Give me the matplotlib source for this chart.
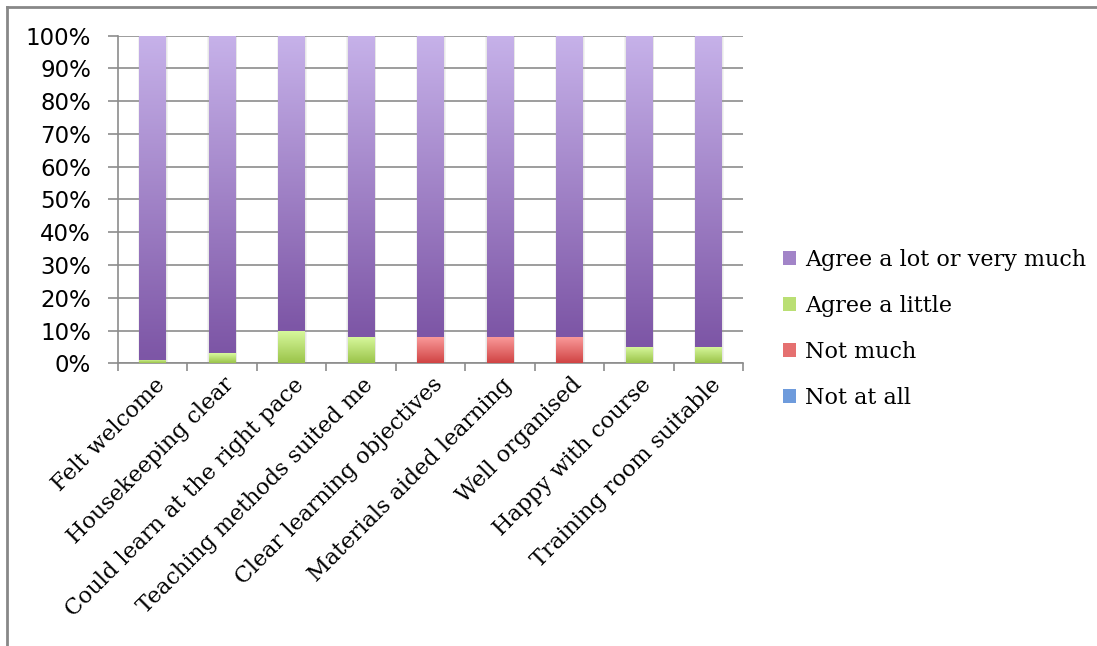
import numpy as np
import matplotlib.pyplot as plt
import matplotlib.transforms as mtransforms
from matplotlib.colors import LinearSegmentedColormap, to_rgb
from matplotlib.patches import Rectangle
from matplotlib.lines import Line2D

# ====================== DATA ======================
categories = ['Felt welcome', 'Housekeeping clear', 'Could learn at the right pace',
              'Teaching methods suited me', 'Clear learning objectives',
              'Materials aided learning', 'Well organised', 'Happy with course',
              'Training room suitable']
not_at_all = [0, 0, 0, 0, 0, 0, 0, 0, 0]
not_much = [0, 0, 0, 0, 8, 8, 8, 0, 0]
agree_little = [1, 3, 10, 8, 0, 0, 0, 5, 5]
agree_lot = [99, 97, 90, 92, 92, 92, 92, 95, 95]

series = [('Not at all', not_at_all, ('#3f74c6', '#9cc2f2')),
          ('Not much', not_much, ('#d04444', '#fb9c9c')),
          ('Agree a little', agree_little, ('#9bc44a', '#d8f99e')),
          ('Agree a lot or very much', agree_lot, ('#7d56a6', '#c6b1e9'))]

serif = 'DejaVu Serif'
grid_col = '#8c8c8c'

fig = plt.figure(figsize=(10.97, 6.46), dpi=100)
ax = fig.add_axes([117.5 / 1097, 1 - 363.3 / 646, (743 - 117.5) / 1097, (363.3 - 35.7) / 646])

x = np.arange(len(categories))
width = 0.375
grad = np.linspace(0, 1, 64).reshape(-1, 1)

# soft shadow behind bars
for extra in (0.06, 0.035, 0.015):
    ax.bar(x + 0.008, 100, width=width + extra, color='#9a9a9a', alpha=0.12,
           zorder=2, linewidth=0)

bottom = np.zeros(len(categories))
for name, vals, (c0, c1) in series:
    vals = np.array(vals, dtype=float)
    bars = ax.bar(x, vals, width=width, bottom=bottom, color=c0, zorder=3, linewidth=0)
    cmap = LinearSegmentedColormap.from_list(name, [c0, c1])
    for p in bars:
        h = p.get_height()
        if h <= 0:
            continue
        x0, y0, w = p.get_x(), p.get_y(), p.get_width()
        ax.imshow(grad, extent=[x0, x0 + w, y0, y0 + h], origin='lower',
                  aspect='auto', cmap=cmap, zorder=4, interpolation='bilinear')
    bottom += vals

ax.set_xlim(-0.5, len(categories) - 0.5)
ax.set_ylim(0, 100)

# y axis
ax.set_yticks(np.arange(0, 101, 10))
ax.set_yticklabels([f'{v}%' for v in range(0, 101, 10)], fontsize=16.5, family='DejaVu Sans')
ax.tick_params(axis='y', length=7, width=1.2, color=grid_col, pad=12)
ax.yaxis.grid(True, color=grid_col, linewidth=1.2, zorder=1)
ax.set_axisbelow(True)

# x axis: labels at centres, ticks at boundaries
ax.set_xticks(x)
ax.set_xticklabels(categories, rotation=45, ha='right', va='center',
                   rotation_mode='anchor', fontsize=16, family=serif)
ax.tick_params(axis='x', which='major', length=0, pad=13)
offset = mtransforms.ScaledTranslation(9 / 100, 0, fig.dpi_scale_trans)
for lbl in ax.get_xticklabels():
    lbl.set_transform(lbl.get_transform() + offset)
ax.set_xticks(np.arange(-0.5, len(categories)), minor=True)
ax.tick_params(axis='x', which='minor', length=6, width=1.2, color=grid_col)

for s in ('top', 'right'):
    ax.spines[s].set_visible(False)
for s in ('left', 'bottom'):
    ax.spines[s].set_color(grid_col)
    ax.spines[s].set_linewidth(1.2)

# legend
handles = [Rectangle((0, 0), 1, 1,
                     facecolor=tuple((np.array(to_rgb(c[0])) + np.array(to_rgb(c[1]))) / 2),
                     edgecolor='none', label=n)
           for n, _, c in series[::-1]]
fig.legend(handles=handles, loc='center left', bbox_to_anchor=(783 / 1097, 1 - 329 / 646),
           frameon=False, prop={'family': serif, 'size': 16}, handlelength=0.58,
           handleheight=0.58, handletextpad=0.4, labelspacing=1.08, borderpad=0,
           borderaxespad=0)

# outer frame (top and left edges visible)
fig.add_artist(Line2D([7 / 1097, 1], [1 - 7 / 646, 1 - 7 / 646], color='#888888', lw=2))
fig.add_artist(Line2D([7 / 1097, 7 / 1097], [0, 1 - 7 / 646], color='#888888', lw=2))

plt.savefig('out.png', dpi=100)
